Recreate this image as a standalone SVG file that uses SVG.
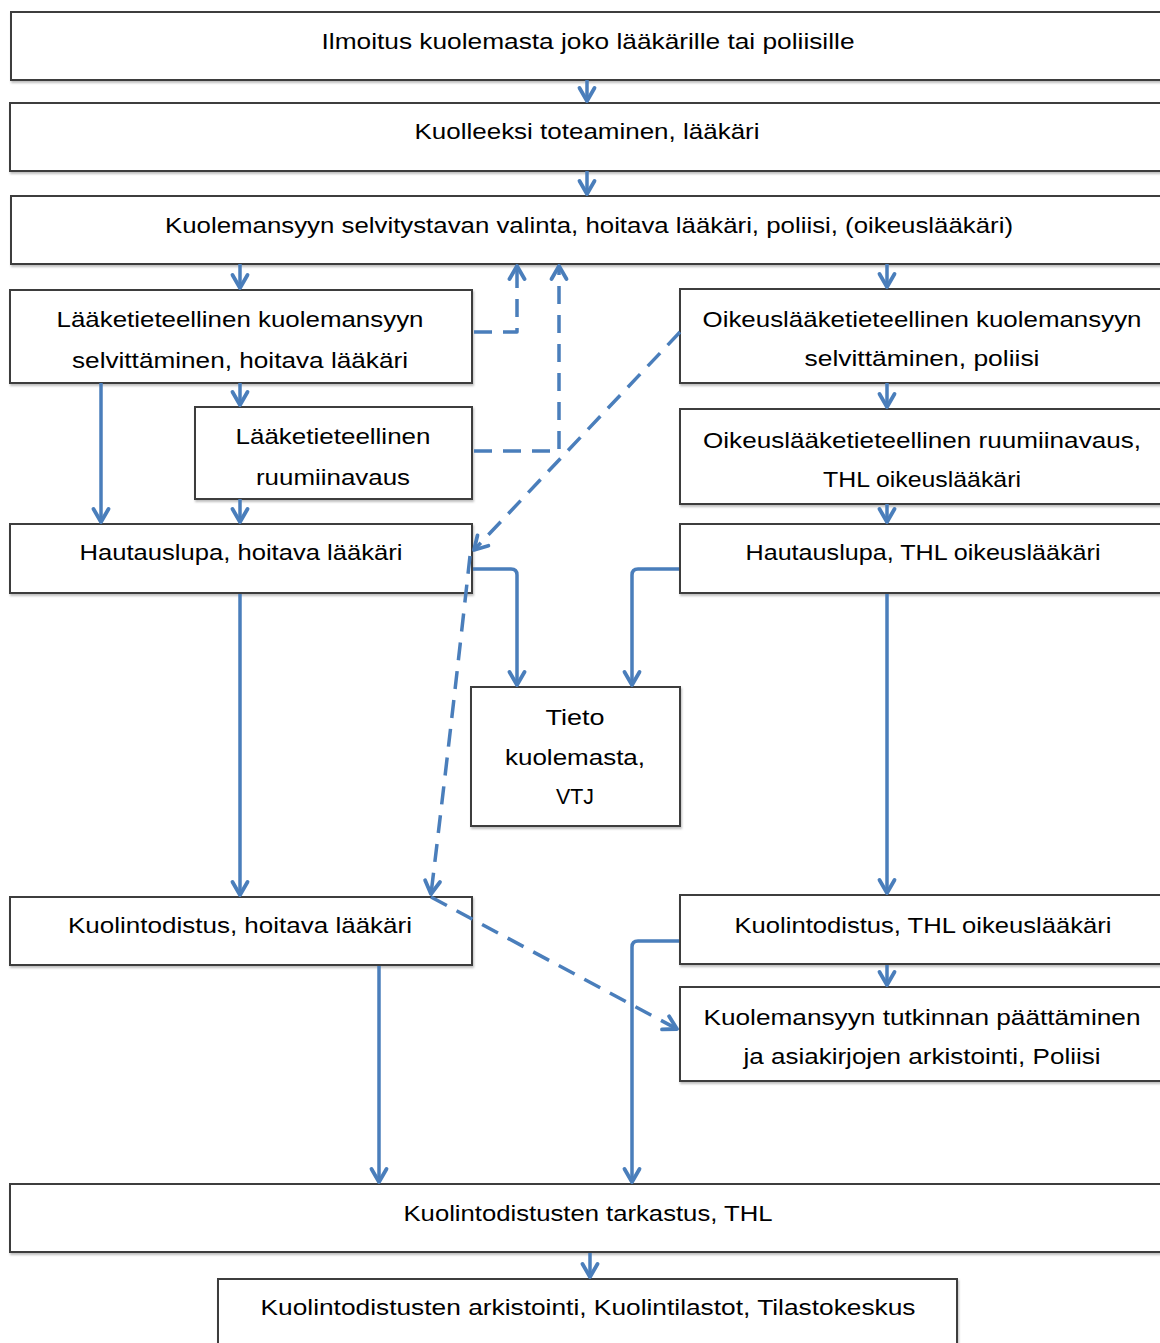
<svg xmlns="http://www.w3.org/2000/svg" width="1160" height="1343" viewBox="0 0 1160 1343">
<style>
.box{fill:#fff;stroke:#3c3c3c;stroke-width:2}
.t{font-family:"Liberation Sans",Arial,sans-serif;font-size:22.5px;fill:#000;text-anchor:middle}
.c{fill:none;stroke:#4a7ebb;stroke-width:3.5;stroke-linejoin:round}
.d{stroke-dasharray:18 11}
</style>
<defs>
<marker id="ah" markerUnits="userSpaceOnUse" markerWidth="26" markerHeight="26" viewBox="-15 -13 17 26" refX="0" refY="0" orient="auto">
<path d="M-13,-7.5 L0,0 L-13,7.5" fill="none" stroke="#4a7ebb" stroke-width="3.8" stroke-linecap="round" stroke-linejoin="round"/>
</marker>
<filter id="sh" x="-5%" y="-5%" width="110%" height="120%">
<feDropShadow dx="1" dy="2" stdDeviation="1.2" flood-color="#000" flood-opacity="0.25"/>
</filter>
</defs>
<rect width="1160" height="1343" fill="#fff"/>
<g id="n1"><rect class="box" filter="url(#sh)" x="11" y="12" width="1160" height="68"/><text class="t" x="588" y="49" textLength="533" lengthAdjust="spacingAndGlyphs">Ilmoitus kuolemasta joko lääkärille tai poliisille</text></g>
<g id="n2"><rect class="box" filter="url(#sh)" x="10" y="103" width="1160" height="68"/><text class="t" x="587" y="139" textLength="345" lengthAdjust="spacingAndGlyphs">Kuolleeksi toteaminen, lääkäri</text></g>
<g id="n3"><rect class="box" filter="url(#sh)" x="11" y="196" width="1160" height="68"/><text class="t" x="589" y="233" textLength="848" lengthAdjust="spacingAndGlyphs">Kuolemansyyn selvitystavan valinta, hoitava lääkäri, poliisi, (oikeuslääkäri)</text></g>
<g id="n4"><rect class="box" filter="url(#sh)" x="10" y="290" width="462" height="93"/><text class="t" x="240" y="327" textLength="367" lengthAdjust="spacingAndGlyphs">Lääketieteellinen kuolemansyyn</text><text class="t" x="240" y="368" textLength="336" lengthAdjust="spacingAndGlyphs">selvittäminen, hoitava lääkäri</text></g>
<g id="n5"><rect class="box" filter="url(#sh)" x="195" y="407" width="277" height="92"/><text class="t" x="333" y="444" textLength="195" lengthAdjust="spacingAndGlyphs">Lääketieteellinen</text><text class="t" x="333" y="485" textLength="154" lengthAdjust="spacingAndGlyphs">ruumiinavaus</text></g>
<g id="n6"><rect class="box" filter="url(#sh)" x="10" y="524" width="462" height="69"/><text class="t" x="241" y="560" textLength="323" lengthAdjust="spacingAndGlyphs">Hautauslupa, hoitava lääkäri</text></g>
<g id="n7"><rect class="box" filter="url(#sh)" x="680" y="289" width="490" height="94"/><text class="t" x="922" y="327" textLength="439" lengthAdjust="spacingAndGlyphs">Oikeuslääketieteellinen kuolemansyyn</text><text class="t" x="922" y="366" textLength="235" lengthAdjust="spacingAndGlyphs">selvittäminen, poliisi</text></g>
<g id="n8"><rect class="box" filter="url(#sh)" x="680" y="409" width="490" height="95"/><text class="t" x="922" y="448" textLength="438" lengthAdjust="spacingAndGlyphs">Oikeuslääketieteellinen ruumiinavaus,</text><text class="t" x="922" y="487" textLength="198" lengthAdjust="spacingAndGlyphs">THL oikeuslääkäri</text></g>
<g id="n9"><rect class="box" filter="url(#sh)" x="680" y="524" width="490" height="69"/><text class="t" x="923" y="560" textLength="355" lengthAdjust="spacingAndGlyphs">Hautauslupa, THL oikeuslääkäri</text></g>
<g id="n10"><rect class="box" filter="url(#sh)" x="471" y="687" width="209" height="139"/><text class="t" x="575" y="725" textLength="59" lengthAdjust="spacingAndGlyphs">Tieto</text><text class="t" x="575" y="765" textLength="140" lengthAdjust="spacingAndGlyphs">kuolemasta,</text><text class="t" x="575" y="804" textLength="38" lengthAdjust="spacingAndGlyphs">VTJ</text></g>
<g id="n11"><rect class="box" filter="url(#sh)" x="10" y="897" width="462" height="68"/><text class="t" x="240" y="933" textLength="344" lengthAdjust="spacingAndGlyphs">Kuolintodistus, hoitava lääkäri</text></g>
<g id="n12"><rect class="box" filter="url(#sh)" x="680" y="895" width="490" height="69"/><text class="t" x="923" y="933" textLength="377" lengthAdjust="spacingAndGlyphs">Kuolintodistus, THL oikeuslääkäri</text></g>
<g id="n13"><rect class="box" filter="url(#sh)" x="680" y="987" width="490" height="94"/><text class="t" x="922" y="1025" textLength="437" lengthAdjust="spacingAndGlyphs">Kuolemansyyn tutkinnan päättäminen</text><text class="t" x="922" y="1064" textLength="357" lengthAdjust="spacingAndGlyphs">ja asiakirjojen arkistointi, Poliisi</text></g>
<g id="n14"><rect class="box" filter="url(#sh)" x="10" y="1184" width="1160" height="68"/><text class="t" x="588" y="1221" textLength="369" lengthAdjust="spacingAndGlyphs">Kuolintodistusten tarkastus, THL</text></g>
<g id="n15"><rect class="box" filter="url(#sh)" x="218" y="1279" width="739" height="80"/><text class="t" x="588" y="1315" textLength="655" lengthAdjust="spacingAndGlyphs">Kuolintodistusten arkistointi, Kuolintilastot, Tilastokeskus</text></g>
<g id="connectors">
<path class="c" marker-end="url(#ah)" d="M587,80 V101"/>
<path class="c" marker-end="url(#ah)" d="M587,171 V194"/>
<path class="c" marker-end="url(#ah)" d="M240,264 V288"/>
<path class="c" marker-end="url(#ah)" d="M887,264 V287"/>
<path class="c" marker-end="url(#ah)" d="M240,383 V405"/>
<path class="c" marker-end="url(#ah)" d="M101,383 V522"/>
<path class="c" marker-end="url(#ah)" d="M240,499 V522"/>
<path class="c" marker-end="url(#ah)" d="M887,383 V407"/>
<path class="c" marker-end="url(#ah)" d="M887,504 V522"/>
<path class="c" marker-end="url(#ah)" d="M473,569 H511 Q517,569 517,575 V685"/>
<path class="c" marker-end="url(#ah)" d="M679,569 H638 Q632,569 632,575 V685"/>
<path class="c" marker-end="url(#ah)" d="M240,594 V895"/>
<path class="c" marker-end="url(#ah)" d="M887,594 V893"/>
<path class="c" marker-end="url(#ah)" d="M887,965 V985"/>
<path class="c" marker-end="url(#ah)" d="M379,966 V1182"/>
<path class="c" marker-end="url(#ah)" d="M679,941 H638 Q632,941 632,947 V1182"/>
<path class="c" marker-end="url(#ah)" d="M590,1253 V1277"/>
<path class="c d" marker-end="url(#ah)" d="M474,332 H517 V266"/>
<path class="c d" marker-end="url(#ah)" d="M474,451 H559 V266"/>
<path class="c d" marker-end="url(#ah)" d="M680,332 L474,550"/>
<path class="c d" marker-end="url(#ah)" d="M470,556 Q452,720 431,894"/>
<path class="c d" marker-end="url(#ah)" d="M431,897 L677,1029"/>
</g>
</svg>
